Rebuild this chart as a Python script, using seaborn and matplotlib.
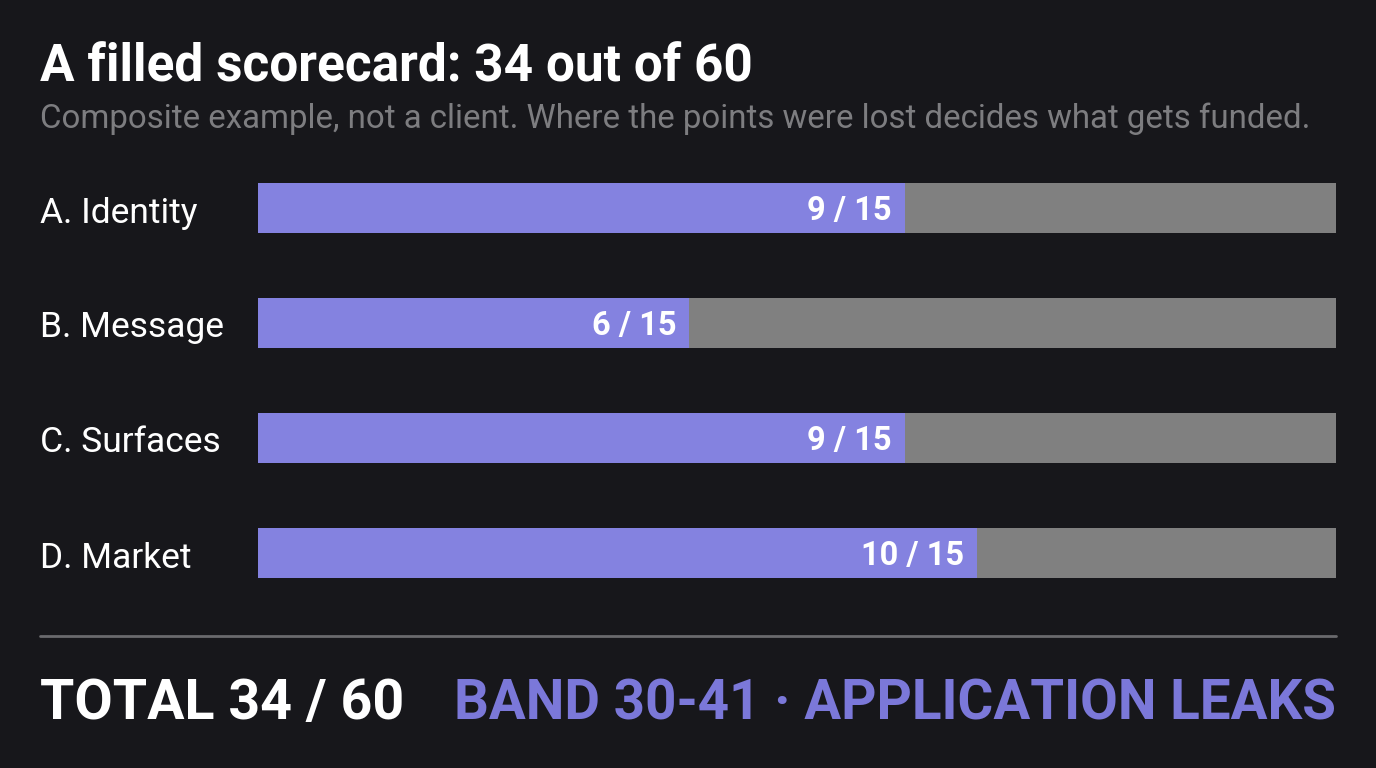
import matplotlib
matplotlib.use("Agg")
import matplotlib.pyplot as plt
import seaborn as sns
import pandas as pd

categories = ["A. Identity", "B. Message", "C. Surfaces", "D. Market"]
scores = [9, 6, 9, 10]
max_scores = [15, 15, 15, 15]
total_score = 34
total_max = 60
band_text = "BAND 30-41 · APPLICATION LEAKS"
title = "A filled scorecard: 34 out of 60"
subtitle = "Composite example, not a client. Where the points were lost decides what gets funded."

BG = "#17171b"
PURPLE = "#8482e0"
GRAY = "#808080"

sns.set_theme(style="white")
plt.rcParams["font.family"] = ["Roboto", "DejaVu Sans"]

df = pd.DataFrame({"category": categories, "score": scores, "max": max_scores})

fig = plt.figure(figsize=(13.76, 7.68), dpi=100, facecolor=BG)
ax = fig.add_axes([258 / 1376, (768 - 610.5) / 768, 1078 / 1376, 460 / 768])
ax.set_facecolor(BG)

sns.barplot(data=df, x="max", y="category", orient="h", color=GRAY, width=0.435,
            ax=ax, saturation=1, edgecolor="none", linewidth=0)
sns.barplot(data=df, x="score", y="category", orient="h", color=PURPLE, width=0.435,
            ax=ax, saturation=1, edgecolor="none", linewidth=0)

ax.set_xlim(0, 15)
ax.set_ylim(3.5, -0.5)
ax.set_xlabel("")
ax.set_ylabel("")
ax.set_xticks([])
ax.set_yticks([])
for s in ax.spines.values():
    s.set_visible(False)

for i, (c, v, m) in enumerate(zip(categories, scores, max_scores)):
    ax.text(v - 0.18, i + 0.03, f"{v} / {m}", ha="right", va="center", color="white",
            fontsize=23.5, fontweight="bold")
    fig.text(40 / 1376, 1 - (213 + i * 115) / 768, c, ha="left", va="center",
             color="white", fontsize=25.5)

fig.text(40 / 1376, 1 - 68 / 768, title, ha="left", va="center", color="white",
         fontsize=37, fontweight="bold")
fig.text(40 / 1376, 1 - 119 / 768, subtitle, ha="left", va="center", color="#7d7d80",
         fontsize=23.8)

fig.add_artist(plt.Line2D([40 / 1376, 1336 / 1376], [1 - 636 / 768] * 2,
                          color="#6a6a6d", linewidth=2, transform=fig.transFigure))

fig.text(40 / 1376, 1 - 704 / 768, f"TOTAL {total_score} / {total_max}", ha="left",
         va="center", color="white", fontsize=40, fontweight="bold")
fig.text(1336 / 1376, 1 - 704 / 768, band_text, ha="right", va="center",
         color="#7b78d9", fontsize=39.4, fontweight="bold")

fig.savefig("out.png", dpi=100, facecolor=BG)
